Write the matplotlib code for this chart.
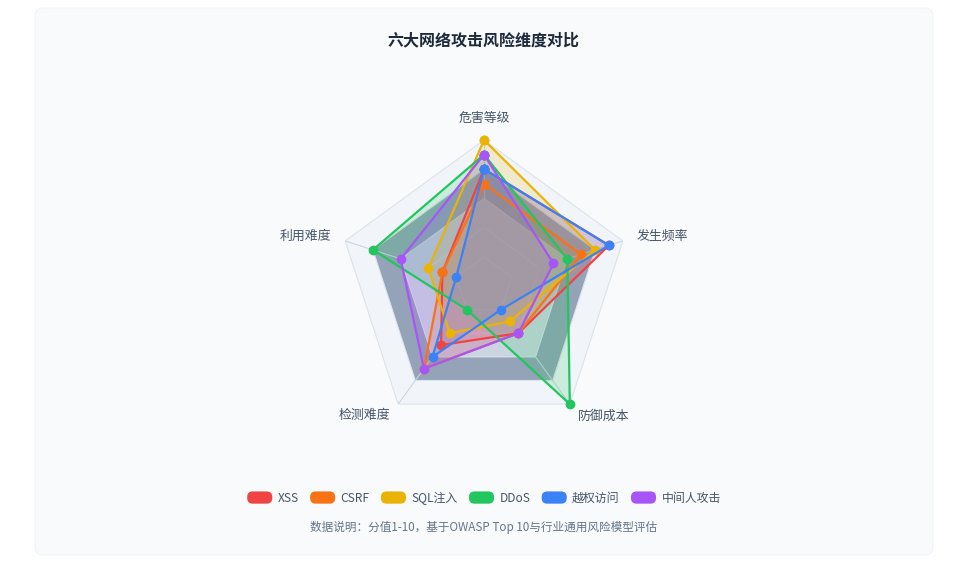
import matplotlib.pyplot as plt
import numpy as np
from matplotlib.patches import FancyBboxPatch, Patch
from matplotlib.legend_handler import HandlerPatch

plt.rcParams['font.family'] = ['Noto Sans CJK SC', 'DejaVu Sans']

# 数据
indicators = ['危害等级', '发生频率', '防御成本', '检测难度', '利用难度']
series_names = ['XSS', 'CSRF', 'SQL注入', 'DDoS', '越权访问', '中间人攻击']
xss = [8, 9, 4, 5, 3]
csrf = [7, 7, 4, 7, 3]
sql_inject = [10, 8, 3, 4, 4]
ddos = [9, 6, 10, 2, 8]
privilege = [8, 9, 2, 6, 2]
mitm = [9, 5, 4, 7, 6]
max_value = 10

colors = ['#ef4444', '#f97316', '#eab308', '#22c55e', '#3b82f6', '#a855f7']
ring_colors = ['#cbd5e1', '#cbd5e1', '#cbd5e1', '#94a3b8', '#f1f5f9']  # 内 -> 外


class RoundHandler(HandlerPatch):
    """圆角图例色块"""
    def create_artists(self, legend, orig_handle, xdescent, ydescent,
                       width, height, fontsize, trans):
        p = FancyBboxPatch((-xdescent, -ydescent), width, height,
                           boxstyle='round,pad=0,rounding_size=4',
                           facecolor=orig_handle.get_facecolor(),
                           edgecolor='none', transform=trans)
        return [p]


fig = plt.figure(figsize=(9.67, 5.63), dpi=100)
fig.patch.set_facecolor('white')

# 卡片背景
card = FancyBboxPatch((0.35, 0.08), 8.98, 5.47,
                      boxstyle='round,pad=0,rounding_size=0.08',
                      transform=fig.dpi_scale_trans,
                      facecolor='#f8fafc', edgecolor='#f1f5f9', lw=0.8, zorder=-5)
fig.patches.append(card)

ax = fig.add_axes([338 / 967, 131 / 563, 292 / 967, 292 / 563], projection='polar')
ax.set_zorder(1)
ax.set_theta_zero_location('N')
ax.set_theta_direction(-1)
ax.set_ylim(0, max_value)
ax.set_axis_off()

angles = np.linspace(0, 2 * np.pi, len(indicators), endpoint=False)
closed = np.append(angles, angles[0])

# 分隔区域
n_rings = len(ring_colors)
for i in reversed(range(n_rings)):
    r = max_value * (i + 1) / n_rings
    ax.fill(closed, [r] * len(closed), color=ring_colors[i], lw=0, zorder=1)
    ax.plot(closed, [r] * len(closed), color='#dde3ea', lw=0.8, zorder=2)
for a in angles:
    ax.plot([a, a], [0, max_value], color='#cbd5e1', lw=0.8, zorder=2)

# 系列: 先画面积, 再画线和点
all_series = [xss, csrf, sql_inject, ddos, privilege, mitm]
for vals, c in zip(all_series, colors):
    v = list(vals) + [vals[0]]
    ax.fill(closed, v, color=c, alpha=0.18, lw=0, zorder=4)
for k, (vals, c) in enumerate(zip(all_series, colors)):
    v = list(vals) + [vals[0]]
    ax.plot(closed, v, color=c, lw=1.6, marker='o', ms=6, mec=c,
            clip_on=False, zorder=10 + k)

# 指标标签
label_cfg = [
    (11.5, 'center', 'center'),
    (11.0, 'left', 'center'),
    (11.0, 'left', 'center'),
    (11.0, 'right', 'center'),
    (11.0, 'right', 'center'),
]
for a, name, (r, ha, va) in zip(angles, indicators, label_cfg):
    ax.text(a, r, name, ha=ha, va=va, fontsize=9.3, color='#475569')

fig.text(0.5, 1 - 40 / 563, '六大网络攻击风险维度对比', ha='center', va='center',
         fontsize=11.5, fontweight='bold', color='#1e293b')

handles = [Patch(facecolor=c, label=n) for c, n in zip(colors, series_names)]
fig.legend(handles=handles, loc='center', bbox_to_anchor=(484 / 967, 1 - 498 / 563),
           ncol=6, frameon=False, fontsize=8.6, labelcolor='#475569',
           handlelength=2.1, handleheight=1.2, handletextpad=0.45,
           columnspacing=0.95, handler_map={Patch: RoundHandler()})

fig.text(0.5, 1 - 527 / 563, '数据说明：分值1-10，基于OWASP Top 10与行业通用风险模型评估',
         ha='center', va='center', fontsize=8.4, color='#64748b')

fig.savefig('out.png', dpi=100)
